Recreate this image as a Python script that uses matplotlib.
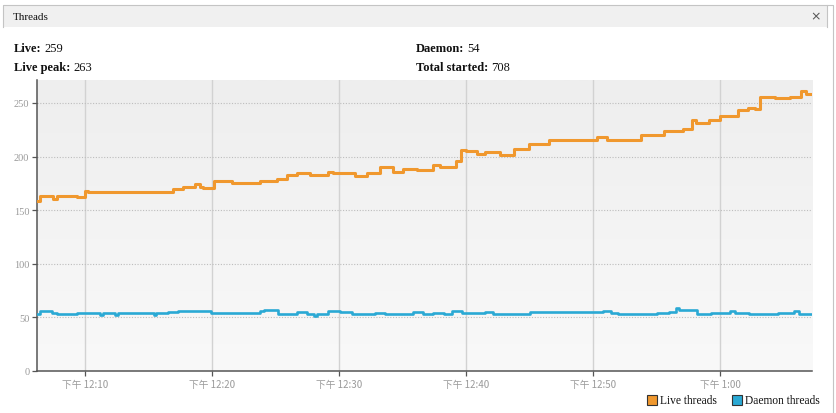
import numpy as np
import matplotlib
matplotlib.use("Agg")
import matplotlib.pyplot as plt
from matplotlib.patches import Rectangle
from matplotlib.colors import LinearSegmentedColormap

# ---------------- data ----------------
# time in minutes after 12:00 (afternoon)
live_t = [6.22, 6.46, 7.48, 7.80, 9.37, 10.0, 10.24, 11.97, 12.99, 16.93, 17.72,
          18.66, 19.06, 19.29, 20.16, 20.47, 21.57, 23.78, 25.12, 25.91, 26.69,
          27.72, 29.13, 29.53, 31.26, 32.20, 33.23, 34.25, 35.04, 36.14, 37.40,
          37.95, 39.21, 39.61, 40.0, 40.87, 41.50, 42.68, 43.78, 44.96, 46.54,
          47.95, 50.31, 51.10, 53.78, 55.59, 57.09, 57.80, 58.11, 59.13, 60.0,
          61.42, 62.20, 62.76, 63.15, 64.33, 65.51, 66.38, 66.77, 67.24]
live_v = [159, 163, 160, 163.5, 162, 168, 167, 166.5, 167, 170, 172,
          174, 172, 171, 177.5, 177, 175.5, 177, 179, 183, 184.5,
          183, 186, 184.5, 182, 184.5, 190, 186, 188.5, 187, 192,
          190.5, 196, 206.5, 205.5, 202.5, 204, 201, 207, 211.5, 215,
          215.5, 218, 215, 220, 224, 226, 234, 231, 234, 237.5,
          243, 245, 244, 256, 254.5, 256, 261, 258, 258]

daemon_t = [6.22, 6.46, 7.40, 7.80, 9.37, 9.60, 11.2, 11.4, 12.4, 12.6, 15.4,
            15.6, 16.5, 17.30, 19.90, 23.8, 24.1, 25.2, 25.4, 26.7, 27.5,
            28.0, 28.3, 29.1, 30.1, 31.0, 32.8, 33.6, 34.4, 35.8, 36.6,
            37.4, 38.3, 38.9, 39.7, 40.2, 41.5, 42.1, 45.0, 50.8, 51.4,
            52.0, 53.5, 55.0, 56.0, 56.5, 56.8, 57.4, 58.2, 59.3, 60.8,
            61.2, 62.3, 64.6, 65.8, 66.2, 66.7, 67.24]
daemon_v = [53, 55.5, 54, 53, 53.8, 53.8, 52.6, 53.8, 52.6, 53.8, 52.6,
            53.8, 54.7, 55.8, 54.4, 55.5, 56.5, 53, 53, 55.2, 53,
            51.6, 53, 56.3, 54.7, 53, 54, 53, 53, 54.7, 53,
            54, 53, 55.5, 53.8, 53.8, 54.7, 53, 54.7, 55.5, 54,
            53, 53, 54, 55.2, 58.4, 56.9, 56.9, 53, 54, 55.5,
            54, 53, 54, 55.5, 53, 53, 53]

x_ticks = [10, 20, 30, 40, 50, 60]
x_tick_labels = ["下午 12:10", "下午 12:20", "下午 12:30", "下午 12:40", "下午 12:50", "下午 1:00"]
y_ticks = [0, 50, 100, 150, 200, 250]

stats_left = [("Live", "259"), ("Live peak", "263")]
stats_right = [("Daemon", "54"), ("Total started", "708")]
series_names = ["Live threads", "Daemon threads"]
series_colors = ["#f0982e", "#2aa9d4"]

# ---------------- figure ----------------
W, H = 836, 414
fig = plt.figure(figsize=(W / 100, H / 100), dpi=100)
fig.patch.set_facecolor("white")

def fx(px):
    return px / W

def fy(py):
    return 1 - py / H

serif = ["Liberation Serif", "DejaVu Serif"]
cjk = ["Noto Sans CJK TC", "DejaVu Sans"]
line_kw = dict(transform=fig.transFigure, color="#c4c4c4", linewidth=0.8)

# window title bar
fig.patches.append(Rectangle((fx(3), fy(28)), fx(824), 22 / H, transform=fig.transFigure,
                             facecolor="#f0f0f0", edgecolor="none"))
fig.add_artist(plt.Line2D([fx(3), fx(3), fx(827), fx(827)], [fy(28), fy(6), fy(6), fy(28)], **line_kw))
fig.add_artist(plt.Line2D([fx(827), fx(833), fx(833)], [fy(6), fy(6), 0], **line_kw))
fig.text(fx(13), fy(17.5), "Threads", family=serif, fontsize=8, color="#111111",
         va="center", ha="left")
fig.text(fx(816), fy(17), "×", family=["DejaVu Sans"], fontsize=9, color="#555555",
         va="center", ha="center")

# stats header
renderer = fig.canvas.get_renderer()

def stat(xp, yp, label, value):
    t = fig.text(fx(xp), fy(yp), label + ":", family=serif, fontsize=9, fontweight="bold",
                 color="#111111", va="baseline", ha="left")
    bb = t.get_window_extent(renderer=renderer)
    fig.text(fx(bb.x1 + 3), fy(yp), value, family=serif, fontsize=9, color="#111111",
             va="baseline", ha="left")

for i, (lab, val) in enumerate(stats_left):
    stat(14, 52 + i * 19, lab, val)
for i, (lab, val) in enumerate(stats_right):
    stat(416, 52 + i * 19, lab, val)

# ---------------- axes ----------------
ax_l, ax_r, ax_t, ax_b = 37, 812, 81, 372
ax = fig.add_axes([fx(ax_l), fy(ax_b), (ax_r - ax_l) / W, (ax_b - ax_t) / H])

grad = LinearSegmentedColormap.from_list("g", ["#f9f9f9", "#eeeeee"])
ax.imshow(np.linspace(0, 1, 256).reshape(-1, 1), extent=(0, 1, 0, 1),
          transform=ax.transAxes, cmap=grad, aspect="auto", origin="lower", zorder=0)

ax.set_xlim(6.22, 67.24)
ax.set_ylim(0, 271.4)

for xt in x_ticks:
    ax.axvline(xt, color="#d2d2d2", linewidth=1.0, zorder=1)
for yt in y_ticks[1:]:
    ax.axhline(yt, color="#bdbdbd", linewidth=0.8, linestyle=(0, (1, 1.5)), zorder=1)

ax.plot(live_t, live_v, drawstyle="steps-post", color=series_colors[0], linewidth=2.2,
        solid_joinstyle="round", zorder=3)
ax.plot(daemon_t, daemon_v, drawstyle="steps-post", color=series_colors[1], linewidth=1.9,
        solid_joinstyle="round", zorder=3)

ax.set_xticks(x_ticks)
ax.set_xticklabels(x_tick_labels, family=cjk, fontsize=7, color="#9a9a9a")
ax.set_yticks(y_ticks)
ax.set_yticklabels([str(v) for v in y_ticks], family=serif, fontsize=7.5, color="#9a9a9a")
ax.tick_params(axis="both", length=3.5, width=0.9, color="#555555", pad=2)

for s in ["top", "right"]:
    ax.spines[s].set_visible(False)
for s in ["left", "bottom"]:
    ax.spines[s].set_color("#555555")
    ax.spines[s].set_linewidth(1.1)

# ---------------- legend ----------------
leg_items = [(647, series_names[0], series_colors[0]), (732, series_names[1], series_colors[1])]
for xp, name, col in leg_items:
    fig.patches.append(Rectangle((fx(xp), fy(406)), 10 / W, 10 / H, transform=fig.transFigure,
                                 facecolor=col, edgecolor="#333333", linewidth=0.8))
    fig.text(fx(xp + 13), fy(401), name, family=serif, fontsize=8.3, color="#111111",
             va="center", ha="left")

fig.savefig("out.png", dpi=100, facecolor="white")
